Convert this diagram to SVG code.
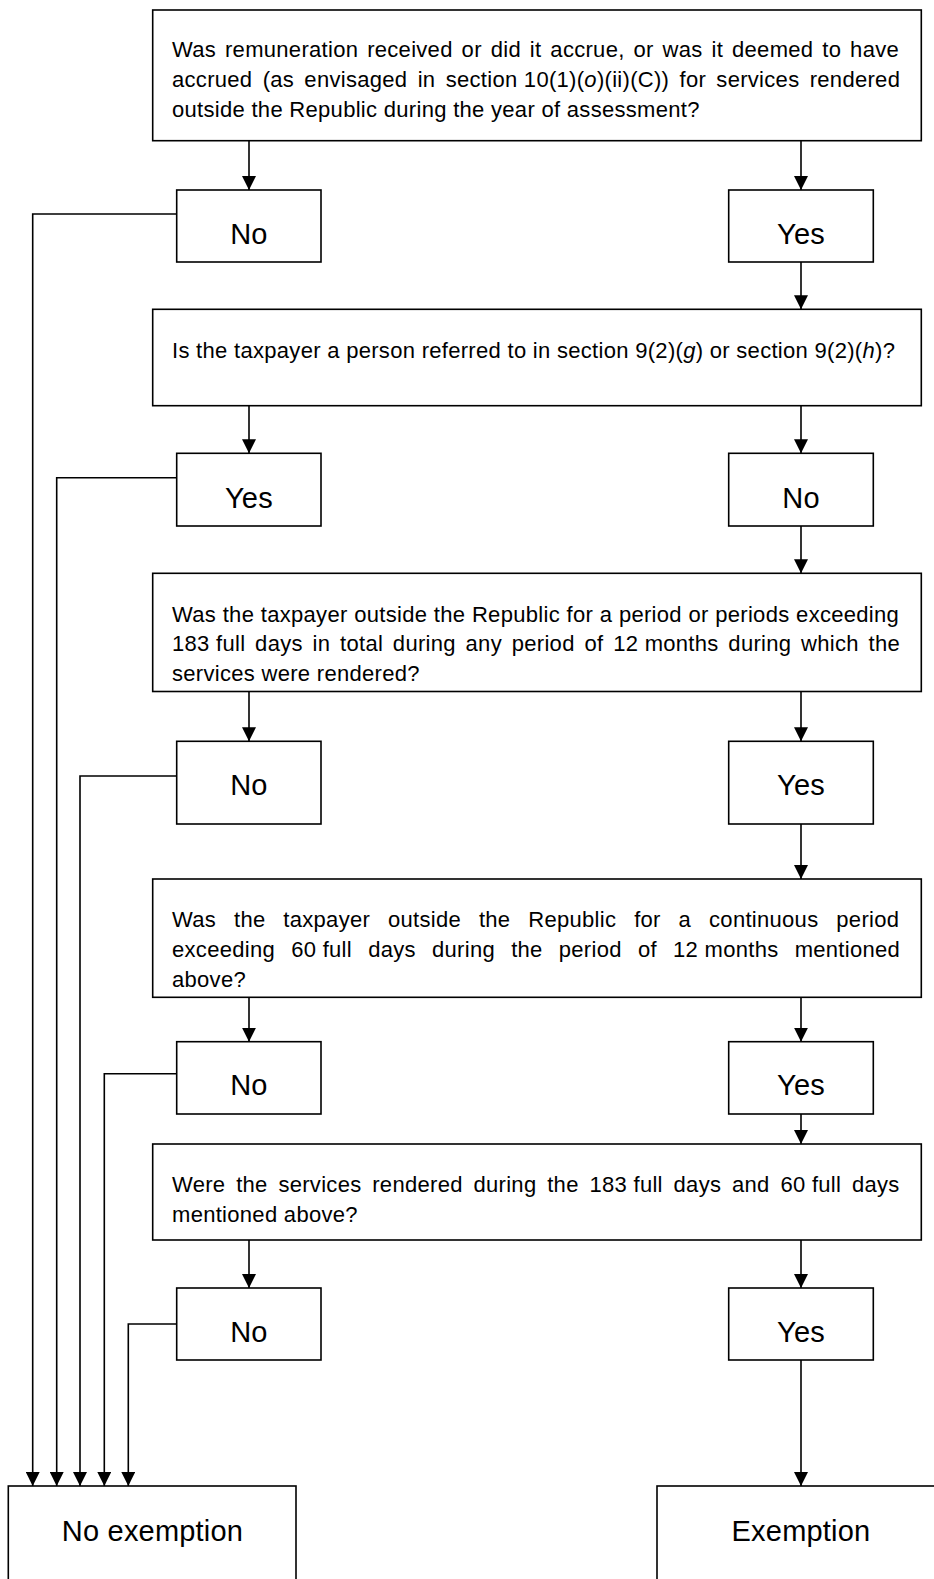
<svg xmlns="http://www.w3.org/2000/svg" width="934" height="1579" viewBox="0 0 934 1579">
<style>
.box{fill:#fff;stroke:#000;stroke-width:1.6}
.q{font-family:"Liberation Sans",Arial,sans-serif;font-size:22px;letter-spacing:0.3px;fill:#000}
.lbl{font-family:"Liberation Sans",Arial,sans-serif;font-size:29px;letter-spacing:0.2px;fill:#000;text-anchor:middle}
.conn{fill:none;stroke:#000;stroke-width:1.6}
.nb{word-spacing:0}
</style>
<defs>
<marker id="ah" markerUnits="userSpaceOnUse" markerWidth="14" markerHeight="14" refX="14" refY="7" orient="auto" viewBox="0 0 14 14">
<path d="M0,0 L14,7 L0,14 z" fill="#000"/>
</marker>
</defs>
<rect width="934" height="1579" fill="#fff"/>

<g id="connectors">
<path class="conn" marker-end="url(#ah)" d="M249,140.7 V190"/>
<path class="conn" marker-end="url(#ah)" d="M801,140.7 V190"/>
<path class="conn" marker-end="url(#ah)" d="M801,262 V309.3"/>
<path class="conn" marker-end="url(#ah)" d="M249,405.7 V453.3"/>
<path class="conn" marker-end="url(#ah)" d="M801,405.7 V453.3"/>
<path class="conn" marker-end="url(#ah)" d="M801,526 V573.3"/>
<path class="conn" marker-end="url(#ah)" d="M249,691.5 V741.3"/>
<path class="conn" marker-end="url(#ah)" d="M801,691.5 V741.3"/>
<path class="conn" marker-end="url(#ah)" d="M801,824 V879"/>
<path class="conn" marker-end="url(#ah)" d="M249,997.3 V1041.7"/>
<path class="conn" marker-end="url(#ah)" d="M801,997.3 V1041.7"/>
<path class="conn" marker-end="url(#ah)" d="M801,1114 V1144"/>
<path class="conn" marker-end="url(#ah)" d="M249,1240 V1288"/>
<path class="conn" marker-end="url(#ah)" d="M801,1240 V1288"/>
<path class="conn" marker-end="url(#ah)" d="M801,1360 V1486"/>
<path class="conn" marker-end="url(#ah)" d="M176.7,214 H32.7 V1486"/>
<path class="conn" marker-end="url(#ah)" d="M176.7,477.7 H56.7 V1486"/>
<path class="conn" marker-end="url(#ah)" d="M176.7,776 H80 V1486"/>
<path class="conn" marker-end="url(#ah)" d="M176.7,1073.7 H104.3 V1486"/>
<path class="conn" marker-end="url(#ah)" d="M176.7,1324 H128.3 V1486"/>
</g>

<g id="q1">
<rect class="box" x="152.7" y="10" width="768.6" height="130.7"/>
<text class="q" x="172" y="57.3" style="word-spacing:2.5px">Was remuneration received or did it accrue, or was it deemed to have</text>
<text class="q" x="172" y="87.3" style="word-spacing:3.86px">accrued (as envisaged in <tspan class="nb">section&#160;10(1)(<tspan font-style="italic">o</tspan>)(ii)(C))</tspan> for services rendered</text>
<text class="q" x="172" y="117.3">outside the Republic during the year of assessment?</text>
</g>

<g id="q1-no">
<rect class="box" x="176.7" y="190" width="144.3" height="72"/>
<text class="lbl" x="248.9" y="244">No</text>
</g>
<g id="q1-yes">
<rect class="box" x="728.7" y="190" width="144.6" height="72"/>
<text class="lbl" x="801" y="244">Yes</text>
</g>

<g id="q2">
<rect class="box" x="152.7" y="309.3" width="768.6" height="96.4"/>
<text class="q" x="172" y="358.3">Is the taxpayer a person referred to in section 9(2)(<tspan font-style="italic">g</tspan>) or section 9(2)(<tspan font-style="italic">h</tspan>)?</text>
</g>

<g id="q2-yes">
<rect class="box" x="176.7" y="453.3" width="144.3" height="72.7"/>
<text class="lbl" x="248.9" y="507.5">Yes</text>
</g>
<g id="q2-no">
<rect class="box" x="728.7" y="453.3" width="144.6" height="72.7"/>
<text class="lbl" x="801" y="507.5">No</text>
</g>

<g id="q3">
<rect class="box" x="152.7" y="573.3" width="768.6" height="118.2"/>
<text class="q" x="172" y="621.5" style="word-spacing:0.2px">Was the taxpayer outside the Republic for a period or periods exceeding</text>
<text class="q" x="172" y="651" style="word-spacing:3.35px"><tspan class="nb">183&#160;full</tspan> days in total during any period of <tspan class="nb">12&#160;months</tspan> during which the</text>
<text class="q" x="172" y="680.5">services were rendered?</text>
</g>

<g id="q3-no">
<rect class="box" x="176.7" y="741.3" width="144.3" height="82.7"/>
<text class="lbl" x="248.9" y="795">No</text>
</g>
<g id="q3-yes">
<rect class="box" x="728.7" y="741.3" width="144.6" height="82.7"/>
<text class="lbl" x="801" y="795">Yes</text>
</g>

<g id="q4">
<rect class="box" x="152.7" y="879" width="768.6" height="118.3"/>
<text class="q" x="172" y="926.7" style="word-spacing:11.47px">Was the taxpayer outside the Republic for a continuous period</text>
<text class="q" x="172" y="957" style="word-spacing:9.76px">exceeding <tspan class="nb">60&#160;full</tspan> days during the period of <tspan class="nb">12&#160;months</tspan> mentioned</text>
<text class="q" x="172" y="987.3">above?</text>
</g>

<g id="q4-no">
<rect class="box" x="176.7" y="1041.7" width="144.3" height="72.3"/>
<text class="lbl" x="248.9" y="1095">No</text>
</g>
<g id="q4-yes">
<rect class="box" x="728.7" y="1041.7" width="144.6" height="72.3"/>
<text class="lbl" x="801" y="1095">Yes</text>
</g>

<g id="q5">
<rect class="box" x="152.7" y="1144" width="768.6" height="96"/>
<text class="q" x="172" y="1192" style="word-spacing:4.36px">Were the services rendered during the <tspan class="nb">183&#160;full</tspan> days and <tspan class="nb">60&#160;full</tspan> days</text>
<text class="q" x="172" y="1221.5">mentioned above?</text>
</g>

<g id="q5-no">
<rect class="box" x="176.7" y="1288" width="144.3" height="72"/>
<text class="lbl" x="248.9" y="1341.7">No</text>
</g>
<g id="q5-yes">
<rect class="box" x="728.7" y="1288" width="144.6" height="72"/>
<text class="lbl" x="801" y="1341.7">Yes</text>
</g>

<g id="no-exemption">
<rect class="box" x="8.3" y="1486" width="287.7" height="110"/>
<text class="lbl" x="152.5" y="1541">No exemption</text>
</g>
<g id="exemption">
<rect class="box" x="657" y="1486" width="300" height="110"/>
<text class="lbl" x="801" y="1540.5">Exemption</text>
</g>
</svg>
